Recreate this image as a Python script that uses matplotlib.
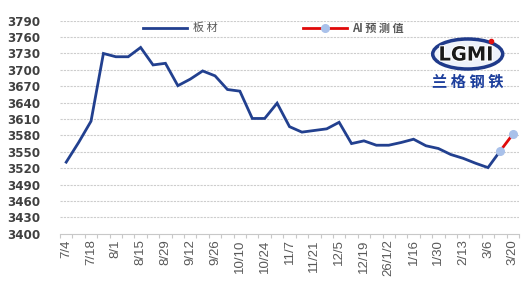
import matplotlib
matplotlib.use("Agg")
import matplotlib.pyplot as plt
import numpy as np
from matplotlib.lines import Line2D
from matplotlib.patches import Ellipse
import matplotlib.patheffects as pe

plt.rcParams['font.family'] = ['Noto Sans CJK SC', 'DejaVu Sans']

# 周度日期（2/20 春节缺失）
dates = ["7/4", "7/11", "7/18", "7/25", "8/1", "8/8", "8/15", "8/22", "8/29",
         "9/5", "9/12", "9/19", "9/26", "10/3", "10/10", "10/17", "10/24",
         "10/31", "11/7", "11/14", "11/21", "11/28", "12/5", "12/12", "12/19",
         "12/26", "26/1/2", "1/9", "1/16", "1/23", "1/30", "2/6", "2/13",
         "2/27", "3/6", "3/13", "3/20"]

# 板材价格
plate = [3531, 3567, 3606, 3730, 3724, 3724, 3741, 3709, 3712, 3671, 3683,
         3698, 3689, 3664, 3661, 3611, 3611, 3639, 3596, 3586, 3589, 3592,
         3604, 3565, 3570, 3562, 3562, 3567, 3573, 3561, 3556, 3545, 3538,
         3529, 3521, 3552]

# AI 预测值
ai_dates = ["3/13", "3/20"]
ai_pred = [3552, 3582]

y_ticks = list(range(3400, 3791, 30))

blue = '#22408f'
red = '#e00a0a'
marker_c = '#a9c1ea'
txt_c = '#404040'

fig = plt.figure(figsize=(5.29, 3.02), dpi=100)
ax = fig.add_axes([60 / 529, 1 - 233.7 / 302, 459 / 529, 213 / 302])

x_all = np.arange(len(dates))
idx = {d: i for i, d in enumerate(dates)}

ax.plot(x_all[:len(plate)], plate, color=blue, lw=2.0, solid_joinstyle='miter', zorder=3)
ai_x = [idx[d] for d in ai_dates]
ax.plot(ai_x, ai_pred, color=red, lw=2.0, zorder=4)
ax.plot(ai_x, ai_pred, ls='none', marker='o', ms=5.5, mfc=marker_c, mec=marker_c, zorder=5)

ax.set_xlim(-0.5, len(dates) - 0.5)
ax.set_ylim(3400, 3790)
ax.set_yticks(y_ticks)
ax.set_yticklabels([str(v) for v in y_ticks], fontsize=8.6, fontweight='bold',
                   color=txt_c, family='DejaVu Sans')
ax.tick_params(axis='y', length=0, pad=14)

ax.set_xticks(x_all[::2])
ax.set_xticklabels(dates[::2], rotation=90, fontsize=9.5, color='#595959',
                   family='Liberation Sans')
ax.tick_params(axis='x', which='major', length=0, pad=4)
ax.set_xticks(np.arange(-0.5, len(dates), 1), minor=True)
ax.tick_params(axis='x', which='minor', length=3, color='#c8c8c8', width=0.8)

for s in ['top', 'right', 'left']:
    ax.spines[s].set_visible(False)
ax.spines['bottom'].set_color('#c8c8c8')
ax.spines['bottom'].set_linestyle((0, (1.5, 1)))
ax.spines['bottom'].set_linewidth(0.8)

for v in y_ticks[1:]:
    ax.axhline(v, color='#cdcdcd', lw=0.8, ls=(0, (2, 1)), zorder=1)

# 图例
ly = 1 - 28 / 302
fig.add_artist(Line2D([143 / 529, 187 / 529], [ly, ly], color=blue, lw=2.0,
                      transform=fig.transFigure))
fig.text(193 / 529, ly, "板 材", fontsize=8, color='#595959', va='center', ha='left')
fig.add_artist(Line2D([303 / 529, 347 / 529], [ly, ly], color=red, lw=2.0,
                      transform=fig.transFigure))
fig.add_artist(Line2D([325 / 529], [ly], ls='none', marker='o', ms=5.5,
                      mfc=marker_c, mec=marker_c, transform=fig.transFigure))
fig.text(352 / 529, ly, "AI 预 测 值", fontsize=8, color='#595959', va='center',
         ha='left', fontweight='bold')

# 标志
fig.add_artist(Ellipse((467.7 / 529, 1 - 54 / 302), 70 / 529, 30 / 302,
                       transform=fig.transFigure, facecolor='#eef2fa',
                       edgecolor='#1f3a8a', lw=2.5))
fig.text(466 / 529, 1 - 55 / 302, "LGMI", fontsize=14, fontweight='heavy',
         color='#1a1a1a', ha='center', va='center', family='DejaVu Sans',
         path_effects=[pe.withStroke(linewidth=1.5, foreground='white')])
fig.add_artist(Line2D([491 / 529], [1 - 41 / 302], ls='none', marker='o', ms=3,
                      mfc='#e01010', mec='#e01010', transform=fig.transFigure))
fig.text(468 / 529, 1 - 82 / 302, "兰 格 钢 铁", fontsize=11, fontweight='bold',
         color='#1d3f9c', ha='center', va='center')

fig.savefig("out.png", dpi=100)
